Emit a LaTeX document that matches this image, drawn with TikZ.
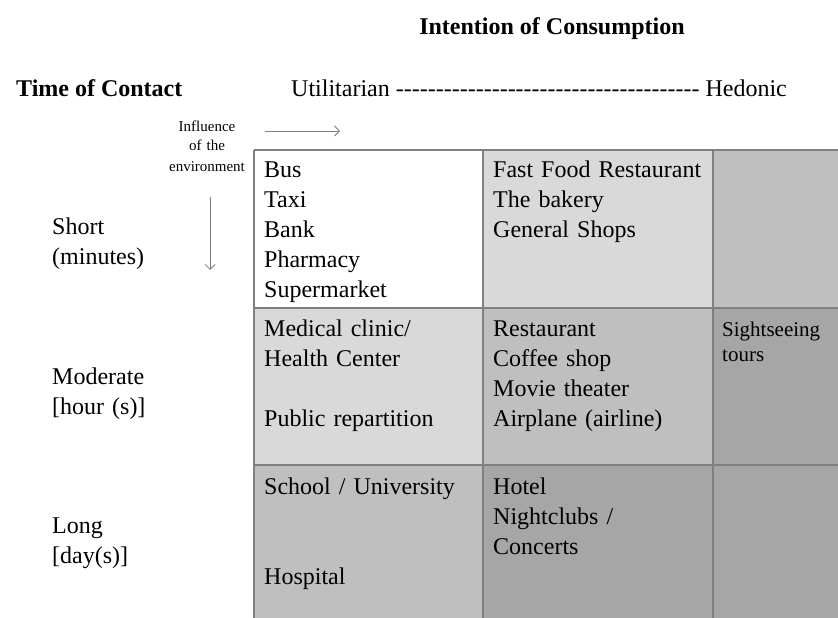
\documentclass[tikz,border=0pt]{standalone}
\usepackage{fontspec}
\setmainfont{Liberation Serif}
\usetikzlibrary{arrows.meta,positioning}
\definecolor{shadeA}{HTML}{D9D9D9}
\definecolor{shadeB}{HTML}{BFBFBF}
\definecolor{shadeC}{HTML}{A6A6A6}
\definecolor{rulegray}{HTML}{808080}
\newcommand*\dashrun{\foreach \k in {1,...,38}{\hbox{-}}}
\tikzset{
	cell/.style={rectangle, inner sep=0pt, outer sep=0pt, anchor=north west},
	grid/.style={draw=rulegray, line width=1.3pt},
	item/.style={anchor=base west, inner sep=0pt, text width=220pt, align=left,
		font=\fontsize{24}{30}\selectfont},
	small/.style={item, text width=120pt, font=\fontsize{21}{25}\selectfont},
	head/.style={anchor=base west, inner sep=0pt, font=\fontsize{24}{30}\selectfont\bfseries},
	plain/.style={anchor=base west, inner sep=0pt, font=\fontsize{24}{30}\selectfont},
	note/.style={anchor=base, inner sep=0pt, text width=100pt, align=center,
		font=\fontsize{15}{20}\selectfont},
	flow/.style={draw=rulegray, line width=0.8pt, -{Straight Barb[length=5pt,width=10pt]}}
}

\begin{document}
\begin{tikzpicture}[x=1pt, y=-1pt]
\useasboundingbox (0,0) rectangle (838,618);
% headings
\node[head, anchor=base] (intent) at (552,35) {Intention of Consumption};
\node[head] (contact) at (16,96) {Time of Contact};
\node[plain] (scale) at (291,96) {Utilitarian \dashrun{} Hedonic};
% cells
\node[cell, fill=white, minimum width=229pt, minimum height=158pt] (c11) at (254,150) {};
\node[cell, fill=shadeA, minimum width=230pt, minimum height=158pt] (c12) at (483,150) {};
\node[cell, fill=shadeB, minimum width=125pt, minimum height=158pt] (c13) at (713,150) {};
\node[cell, fill=shadeA, minimum width=229pt, minimum height=157pt] (c21) at (254,308) {};
\node[cell, fill=shadeB, minimum width=230pt, minimum height=157pt] (c22) at (483,308) {};
\node[cell, fill=shadeC, minimum width=125pt, minimum height=157pt] (c23) at (713,308) {};
\node[cell, fill=shadeB, minimum width=229pt, minimum height=153pt] (c31) at (254,465) {};
\node[cell, fill=shadeC, minimum width=230pt, minimum height=153pt] (c32) at (483,465) {};
\node[cell, fill=shadeC, minimum width=125pt, minimum height=153pt] (c33) at (713,465) {};
% grid
\draw[grid] (c11.north west) -- (c13.north east);
\draw[grid] (c21.north west) -- (c23.north east);
\draw[grid] (c31.north west) -- (c33.north east);
\draw[grid] (c11.north west) -- (c31.south west);
\draw[grid] (c12.north west) -- (c32.south west);
\draw[grid] (c13.north west) -- (c33.south west);
% time of contact
\node[item, text width=150pt] (short) at (52,234) {Short\\(minutes)};
\node[item, text width=150pt] (moderate) at (52,384) {Moderate\\{[}hour (s)]};
\node[item, text width=150pt] (long) at (52,533) {Long\\{[}day(s)]};
% environment
\node[note] (influence) at (207,131) {Influence\\of the\\environment};
\coordinate (hstart) at (265,131);
\coordinate (hend) at (340,131);
\coordinate (vstart) at (210,197);
\coordinate (vend) at (210,270);
\draw[flow] (hstart) -- (hend);
\draw[flow] (vstart) -- (vend);
% entries
\node[item] (t11) at (264,177) {Bus\\Taxi\\Bank\\Pharmacy\\Supermarket};
\node[item] (t12) at (493,177) {Fast Food Restaurant\\The bakery\\General Shops};
\node[item] (t21) at (264,336) {Medical clinic/\\Health Center\\[30pt]Public repartition};
\node[item] (t22) at (493,336) {Restaurant\\Coffee shop\\Movie theater\\Airplane (airline)};
\node[small] (t23) at (722,336) {Sightseeing\\tours};
\node[item] (t31) at (264,494) {School / University\\[60pt]Hospital};
\node[item] (t32) at (493,494) {Hotel\\Nightclubs /\\Concerts};
\end{tikzpicture}
\end{document}
